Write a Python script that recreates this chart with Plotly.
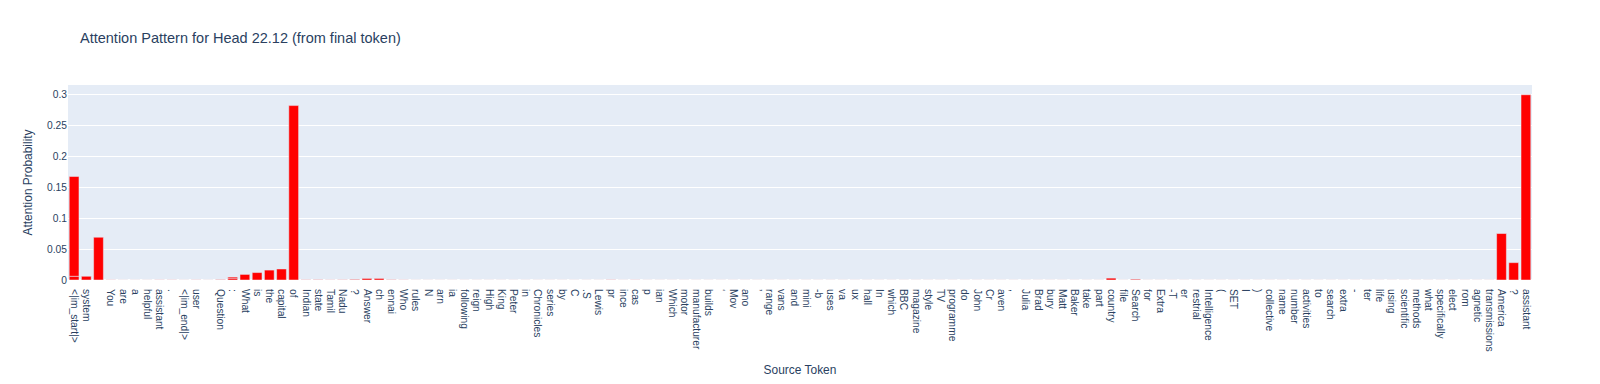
import plotly.graph_objects as go

# Source tokens in first-appearance order (category labels)
tokens = [
    "<|im_start|>", "system", "\n", "You", "are", "a", "helpful", "assistant", ".", "<|im_end|>",
    "user", "\n\n", "Question", ":", "What", "is", "the", "capital", "of", "Indian",
    "state", "Tamil", "Nadu", "?\n", "Answer", "ch", "ennai", "Who", "rules", "N",
    "arn", "ia", "following", "reign", "High", "King", "Peter", "in", "Chronicles", "series",
    "by", "C", ".S", "Lewis", "pr", "ince", "cas", "p", "ian", "Which",
    "motor", "manufacturer", "builds", "\u2018", "Mov", "ano", "\u2019", "range", "vans", "and",
    "mini", "-b", "uses", "va", "ux", "hall", "In", "which", "BBC", "magazine",
    "style", "TV", "programme", "do", "John", "Cr", "aven", ",", "Julia", "Brad",
    "bury", "Matt", "Baker", "take", "part", "country", "file", "Search", "for", "Extra",
    "-T", "er", "restrial", "Intelligence", "(", "SET", "I", ")", "collective", "name",
    "number", "activities", "to", "search", "extra", "-", "ter", "life", "using", "scientific",
    "methods", "what", "specifically", "elect", "rom", "agnetic", "transmissions", "America", "?", "assistant\u200b",
]

# Attention probability from the final token to each source token
attention = [
    0.006, 0.006, 0.069, 0.0002, 0.0001, 0.0001, 0.0001, 0.0002, 0.0002, 0.0001,
    0.0002, 0.0001, 0.0005, 0.003, 0.009, 0.012, 0.016, 0.0178, 0.2815, 0.0003,
    0.0004, 0.0002, 0.0003, 0.0009, 0.0025, 0.0025, 0.0004, 0.0002, 0.0001, 0.0001,
    0.0001, 0.0001, 0.0001, 0.0001, 0.0001, 0.0001, 0.0001, 0.0001, 0.0001, 0.0001,
    0.0001, 0.0001, 0.0001, 0.0001, 0.0003, 0.0001, 0.0002, 0.0001, 0.0001, 0.0001,
    0.0001, 0.0001, 0.0001, 0.0001, 0.0001, 0.0001, 0.0001, 0.0001, 0.0001, 0.0001,
    0.0001, 0.0001, 0.0001, 0.0001, 0.0001, 0.0001, 0.0001, 0.0001, 0.0001, 0.0001,
    0.0001, 0.0001, 0.0001, 0.0001, 0.0001, 0.0001, 0.0001, 0.0001, 0.0001, 0.0001,
    0.0001, 0.0001, 0.0001, 0.0001, 0.0001, 0.003, 0.0001, 0.0012, 0.0001, 0.0001,
    0.0001, 0.0001, 0.0001, 0.0001, 0.0001, 0.0001, 0.0001, 0.0001, 0.0001, 0.0001,
    0.0001, 0.0001, 0.0001, 0.0001, 0.0001, 0.0001, 0.0001, 0.0001, 0.0001, 0.0001,
    0.0001, 0.0001, 0.0001, 0.0001, 0.0001, 0.0001, 0.0001, 0.075, 0.028, 0.299,
]

# Later repeated occurrences of tokens (stacked on the same category)
repeat_tokens = ["<|im_start|>", ":"]
repeat_attention = [0.161, 0.0018]

x_all = tokens + repeat_tokens
y_all = attention + repeat_attention

fig = go.Figure(go.Bar(x=x_all, y=y_all, marker=dict(color="red")))

fig.update_layout(
    width=1600,
    height=384,
    margin=dict(l=68, r=68, t=85, b=104),
    font=dict(family="Liberation Sans, Arial, sans-serif", size=10.24),
    title=dict(text="Attention Pattern for Head 22.12 (from final token)", font=dict(size=14.5)),
    xaxis=dict(
        title=dict(text="Source Token", font=dict(size=11.95)),
        tickmode="linear", tick0=0, dtick=1, tickangle=90, automargin=False,
        ticks="outside", ticklen=6, tickcolor="rgba(0,0,0,0)",
    ),
    yaxis=dict(
        title=dict(text="Attention Probability", font=dict(size=11.95), standoff=11),
        tickmode="linear", tick0=0, dtick=0.05,
        automargin=False,
    ),
    showlegend=False,
)

fig.write_html(
    "out.html",
    config={"displayModeBar": False},
    post_script="document.body.style.margin='0px';",
)
